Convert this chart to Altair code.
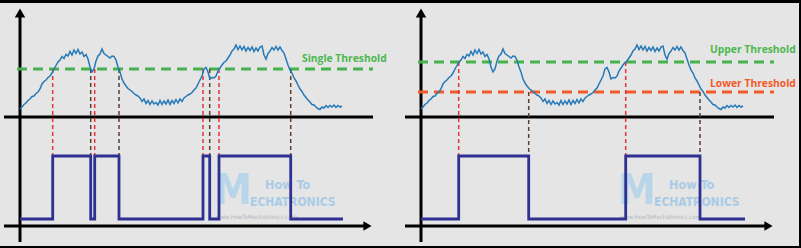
import altair as alt
import pandas as pd

# ---------------- data ----------------
# noisy input signal: time steps and height above the time axis
sig_t = list(range(0, 323, 2))
sig_v = [8, 10, 12.5, 14, 16.5, 18, 20.5, 21, 23.5, 25,
         28, 33, 35.5, 37, 39.5, 41, 44, 48, 51.5, 55,
         57, 60.5, 58.5, 62.5, 61, 65.5, 62, 67, 63.5, 67.5,
         63, 65, 60.5, 62.5, 58, 50, 45, 48, 56, 61,
         63, 68, 63.5, 62, 60.5, 59, 61, 60.5, 57, 50,
         45, 38, 34, 31, 28.5, 27, 25.5, 23.5, 22, 21,
         19, 15.5, 18, 13.5, 16.5, 12.5, 16, 13, 14.5, 12,
         16.5, 12.5, 16, 13, 17, 12.5, 16.5, 13.5, 17.5, 14,
         18, 15.5, 19, 20.5, 22, 23, 24.5, 27, 29, 33,
         37, 41, 48, 49.5, 45, 38, 39.5, 39, 41, 46,
         49, 52, 54.5, 56, 59, 62, 66, 68, 72, 67.5,
         71, 67, 70.5, 66, 69.5, 66.5, 70, 65.5, 69, 66,
         70, 71, 62, 58, 63.5, 66, 69.5, 67, 70.5, 67,
         70, 66.5, 64, 58, 52, 47, 44, 39, 36, 32,
         28, 25.5, 22, 19.5, 17, 15, 12.5, 12, 10, 8.5,
         7.5, 10, 9, 11.5, 9.5, 11.5, 10, 12, 9.5, 11.5,
         10, 11]

# panel 1 : single threshold
single_thr = 48
p1_rise = [32.7, 74.7, 183, 199]
p1_fall = [70.7, 99, 189.7, 270.7]
p1_end = 323

# panel 2 : hysteresis
upper_thr = 55
lower_thr = 25
p2_rise = [37.7, 204.7]
p2_fall = [107.7, 279]
p2_end = 324

labels_p1 = ["Single Threshold"]
labels_p2 = ["Upper Threshold", "Lower Threshold"]
watermark = ["M", "How To", "ECHATRONICS", "www.HowToMechatronics.com"]

# ---------------- styling constants ----------------
BG = "#e5e5e5"
SIG = "#2479b8"
SQ = "#2e3192"
GREEN = "#45b34b"
GREEN_TXT = "#4cb84f"
ORANGE = "#f15a29"
RED = "#e8333a"
BROWN = "#5b3f2c"
LOW, HIGH = -102, -39          # square-wave levels
AX2 = -109                     # lower time axis
WMFONT = "DejaVu Sans Condensed, Roboto, sans-serif"

sig_df = pd.DataFrame({"t": sig_t, "v": sig_v})


def square_df(rise, fall, end):
    ev = sorted([(t, 1) for t in rise] + [(t, 0) for t in fall])
    rows = [(0, 0)] + ev + [(end, ev[-1][1])]
    return pd.DataFrame({"t": [r[0] for r in rows],
                         "v": [LOW + r[1] * (HIGH - LOW) for r in rows]})


def panel(xdom, width, thresholds, rise, fall, end, rise_thr, fall_thr,
          texts, wm_off, right_border):
    xs = alt.Scale(domain=xdom, nice=False, zero=False)
    ys = alt.Scale(domain=[-131, 117], nice=False, zero=False)
    X = lambda f="t": alt.X(f, type="quantitative", scale=xs, axis=None)
    Y = lambda f="v": alt.Y(f, type="quantitative", scale=ys, axis=None)

    layers = []
    # frame bars
    bars = pd.DataFrame({"a": [0]})
    layers.append(alt.Chart(bars).mark_rect(color="black").encode(
        x=alt.value(0), x2=alt.value(width), y=alt.value(0), y2=alt.value(3)))
    layers.append(alt.Chart(bars).mark_rect(color="black").encode(
        x=alt.value(0), x2=alt.value(width), y=alt.value(246), y2=alt.value(248)))
    if right_border:
        layers.append(alt.Chart(bars).mark_rect(color="black").encode(
            x=alt.value(width - 2), x2=alt.value(width), y=alt.value(0), y2=alt.value(248)))

    # watermark
    wm = [(watermark[0], 214, 204, 42, "bold", "#b9d5ea"),
          (watermark[1], 265, 189, 12.5, "bold", "#a9cbe6"),
          (watermark[2], 250, 206, 12, "bold", "#a9cbe6"),
          (watermark[3], 216, 219, 6, "normal", "#b0b8c0")]
    for txt, px, py, fs, fw, col in wm:
        layers.append(alt.Chart(pd.DataFrame({"s": [txt]})).mark_text(
            align="left", baseline="alphabetic", fontSize=fs, fontWeight=fw,
            font=WMFONT, color=col).encode(
            x=alt.value(px + wm_off), y=alt.value(py), text="s:N"))

    # axes
    ax = pd.DataFrame({"t": [-16, -16], "t2": [353, 348], "v": [0, AX2]})
    layers.append(alt.Chart(ax).mark_rule(color="black", strokeWidth=3).encode(
        x=X(), x2="t2", y=Y()))
    vax = pd.DataFrame({"t": [0], "v": [-125], "v2": [106]})
    layers.append(alt.Chart(vax).mark_rule(color="black", strokeWidth=3).encode(
        x=X(), y=Y(), y2="v2"))
    heads_up = pd.DataFrame({"t": [0], "v": [104]})
    layers.append(alt.Chart(heads_up).mark_point(
        shape="triangle-up", filled=True, size=110, color="black", opacity=1).encode(x=X(), y=Y()))
    heads_r = pd.DataFrame({"t": [347.5], "v": [AX2]})
    layers.append(alt.Chart(heads_r).mark_point(
        shape="triangle-right", filled=True, size=90, color="black", opacity=1).encode(x=X(), y=Y()))

    # thresholds
    for thr, col in thresholds:
        d = pd.DataFrame({"t": [-3], "t2": [353], "v": [thr]})
        layers.append(alt.Chart(d).mark_rule(
            color=col, strokeWidth=3, strokeDash=[10, 6]).encode(x=X(), x2="t2", y=Y()))

    # drop lines
    drops = pd.DataFrame({
        "t": rise + fall,
        "v": [rise_thr] * len(rise) + [fall_thr] * len(fall),
        "v2": [HIGH] * (len(rise) + len(fall)),
        "kind": ["rise"] * len(rise) + ["fall"] * len(fall)})
    layers.append(alt.Chart(drops).mark_rule(strokeWidth=1.5, strokeDash=[4, 3]).encode(
        x=X(), y=Y(), y2="v2",
        color=alt.Color("kind:N", scale=alt.Scale(domain=["rise", "fall"], range=[RED, BROWN]),
                        legend=None)))

    # square wave
    layers.append(alt.Chart(square_df(rise, fall, end)).mark_line(
        color=SQ, strokeWidth=2.8, interpolate="step-after").encode(x=X(), y=Y()))

    # signal
    layers.append(alt.Chart(sig_df).mark_line(color=SIG, strokeWidth=1.5).encode(
        x=X(), y=Y()))

    # labels
    for txt, t, v, col in texts:
        d = pd.DataFrame({"t": [t], "v": [v], "s": [txt]})
        layers.append(alt.Chart(d).mark_text(
            align="left", baseline="alphabetic", fontSize=10.3, fontWeight="bold",
            font="Open Sans", color=col).encode(x=X(), y=Y(), text="s:N"))

    return alt.layer(*layers).properties(width=width, height=248)


p1 = panel([-20, 380], 400, [(single_thr, GREEN)], p1_rise, p1_fall, p1_end,
           single_thr, single_thr,
           [(labels_p1[0], 282, 55, GREEN_TXT)], 0, False)
p2 = panel([-21, 380], 401, [(upper_thr, GREEN), (lower_thr, ORANGE)], p2_rise, p2_fall, p2_end,
           upper_thr, lower_thr,
           [(labels_p2[0], 289, 64, GREEN_TXT), (labels_p2[1], 289, 30, ORANGE)], 4, True)

chart = alt.hconcat(p1, p2, spacing=0).properties(
    padding=0, background=BG
).configure_view(strokeWidth=0, stroke="transparent")

chart.save("out.html", embed_options={"renderer": "svg", "actions": False})
